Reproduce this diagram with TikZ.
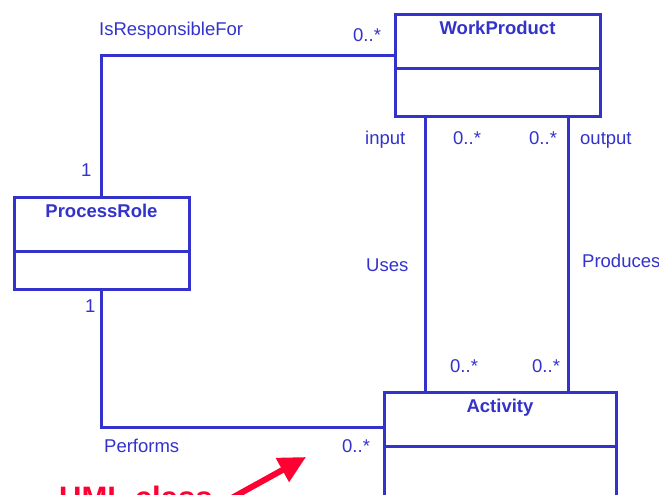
\documentclass[tikz,border=0pt]{standalone}
\usepackage{fontspec}
\setmainfont{Liberation Sans}
\usetikzlibrary{arrows.meta}
\definecolor{umlblue}{RGB}{51,51,204}
\definecolor{umlred}{RGB}{255,0,51}
\begin{document}
\begin{tikzpicture}[x=1pt,y=-1pt,
  cls/.style={draw=umlblue,line width=3pt,fill=white,inner sep=0pt,outer sep=0pt,anchor=north west},
  title/.style={font=\fontsize{18.5}{20}\selectfont\bfseries,text=umlblue,anchor=base,inner sep=0pt},
  lbl/.style={font=\fontsize{18.5}{20}\selectfont,text=umlblue,anchor=base west,inner sep=0pt},
  conn/.style={draw=umlblue,line width=3pt},
  divider/.style={draw=umlblue,line width=3pt}
  ]
\clip (0,0) rectangle (659,495);
\fill[white] (0,0) rectangle (659,495);

% class boxes (positions only, drawn after connectors)
\path node[cls,draw=none,fill=none,minimum width=205pt,minimum height=101pt] (wp) at (395,15) {};
\path node[cls,draw=none,fill=none,minimum width=175pt,minimum height=92pt] (pr) at (14,197) {};
\path node[cls,draw=none,fill=none,minimum width=232pt,minimum height=108pt] (act) at (384,392) {};

% connectors
\draw[conn] (pr.north) |- ([yshift=9.5pt]wp.west);
\draw[conn] (pr.south) |- ([yshift=19pt]act.west);
\coordinate (u1) at ([xshift=30pt]wp.south west);
\draw[conn] (u1) -- (u1 |- act.north);
\coordinate (o1) at ([xshift=-31.5pt]wp.south east);
\draw[conn] (o1) -- (o1 |- act.north);

% boxes drawn
\node[cls,minimum width=205pt,minimum height=101pt] (wpB) at (395,15) {};
\node[cls,minimum width=175pt,minimum height=92pt] (prB) at (14,197) {};
\node[cls,minimum width=232pt,minimum height=108pt] (actB) at (384,392) {};
\draw[divider] ([yshift=-54pt]wpB.north west) -- ([yshift=-54pt]wpB.north east);
\draw[divider] ([yshift=-54pt]prB.north west) -- ([yshift=-54pt]prB.north east);
\draw[divider] ([yshift=-54pt]actB.north west) -- ([yshift=-54pt]actB.north east);

\node[title] (wpT) at ([yshift=-20pt]wpB.north) {WorkProduct};
\node[title] (prT) at ([yshift=-20pt]prB.north) {ProcessRole};
\node[title] (actT) at ([yshift=-20pt]actB.north) {Activity};

% labels
\node[lbl] (l1) at (99,36) {IsResponsibleFor};
\node[lbl] (l2) at (353,42) {0..*};
\node[lbl] (l3) at (81,176) {1};
\node[lbl] (l4) at (365,144) {input};
\node[lbl] (l5) at (453,144) {0..*};
\node[lbl] (l6) at (529,144) {0..*};
\node[lbl] (l7) at (580,144) {output};
\node[lbl] (l8) at (366,271) {Uses};
\node[lbl] (l9) at (582,267) {Produces};
\node[lbl] (l10) at (85,312) {1};
\node[lbl] (l11) at (450,372) {0..*};
\node[lbl] (l12) at (532,372) {0..*};
\node[lbl] (l13) at (104,452) {Performs};
\node[lbl] (l14) at (342,452) {0..*};

% red annotation
\node[font=\fontsize{31}{34}\selectfont\bfseries,text=umlred,anchor=base west,inner sep=0pt] (uml) at (59,508) {UML class};
\coordinate (arrS) at (201,515);
\coordinate (arrE) at (306,457);
\draw[umlred,line width=6pt,-{Triangle[length=27pt,width=26pt]}] (arrS) -- (arrE);
\end{tikzpicture}
\end{document}
